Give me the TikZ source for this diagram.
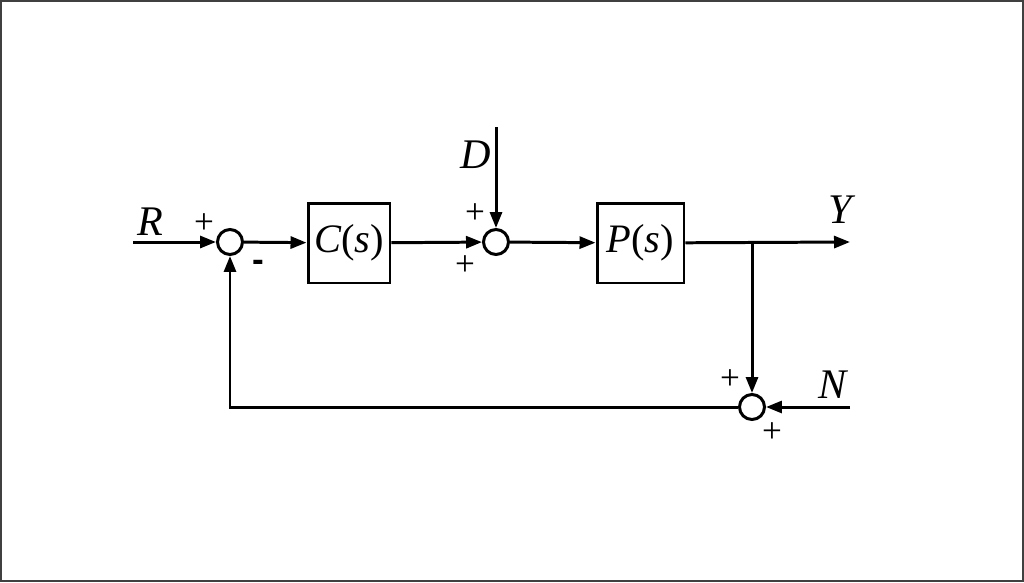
\documentclass[tikz,border=0pt]{standalone}
\usepackage{fontspec}
\setmainfont{Liberation Serif}
\newfontfamily\signfont{Liberation Sans}
\usetikzlibrary{arrows.meta}
\begin{document}
\begin{tikzpicture}[x=0.02cm,y=-0.02cm,line width=1.7pt,
  >={Triangle[length=0.32cm,width=0.24cm]},
  blk/.style={draw,minimum height=1.6cm,inner sep=0pt,font=\fontsize{23}{23}\selectfont},
  sum/.style={draw,circle,minimum size=0.5cm,inner sep=0pt},
  sig/.style={font=\fontsize{24}{24}\selectfont\itshape},
  sgn/.style={font=\fontsize{20}{20}\selectfont}]
\useasboundingbox (0,0) rectangle (1024,582);
\draw[line width=1.4pt,black!75] (1,1) rectangle (1023,581);

\node[sum] (s1) at (230,242) {};
\node[blk,minimum width=1.64cm] (C) at (349,243) {\textit{C}(\textit{s})};
\node[sum] (s2) at (496,242) {};
\node[blk,minimum width=1.74cm] (P) at (640.5,243) {\textit{P}(\textit{s})};
\node[sum] (s3) at (752,407) {};

\coordinate (rin) at (133,242);
\coordinate (din) at (496,127);
\coordinate (yout) at (850,242);
\coordinate (br) at (752,242);
\coordinate (nin) at (850,407);
\coordinate (fb) at (230,407);

\draw[->] (rin) -- (s1);
\draw[->] (s1) -- (C);
\draw[->] (C) -- (s2);
\draw[->] (din) -- (s2);
\draw[->] (s2) -- (P);
\draw[->] (P) -- (yout);
\draw[->] (br) -- (s3);
\draw[->] (nin) -- (s3);
\draw[->] (s3) -- (fb) -- (s1);

% signal names
\node[sig] (lR) at (150,222) {R};
\node[sig] (lD) at (476,155) {D};
\node[sig] (lY) at (840,210) {Y};
\node[sig] (lN) at (833,385) {N};

% signs
\node[sgn] (p1) at (204,224) {+};
\node[font=\signfont\bfseries\fontsize{20}{20}\selectfont] (m1) at (258,266) {-};
\node[sgn] (p2) at (475,214) {+};
\node[sgn] (p3) at (465,266) {+};
\node[sgn] (p4) at (730,380) {+};
\node[sgn] (p5) at (772,433) {+};
\end{tikzpicture}
\end{document}
